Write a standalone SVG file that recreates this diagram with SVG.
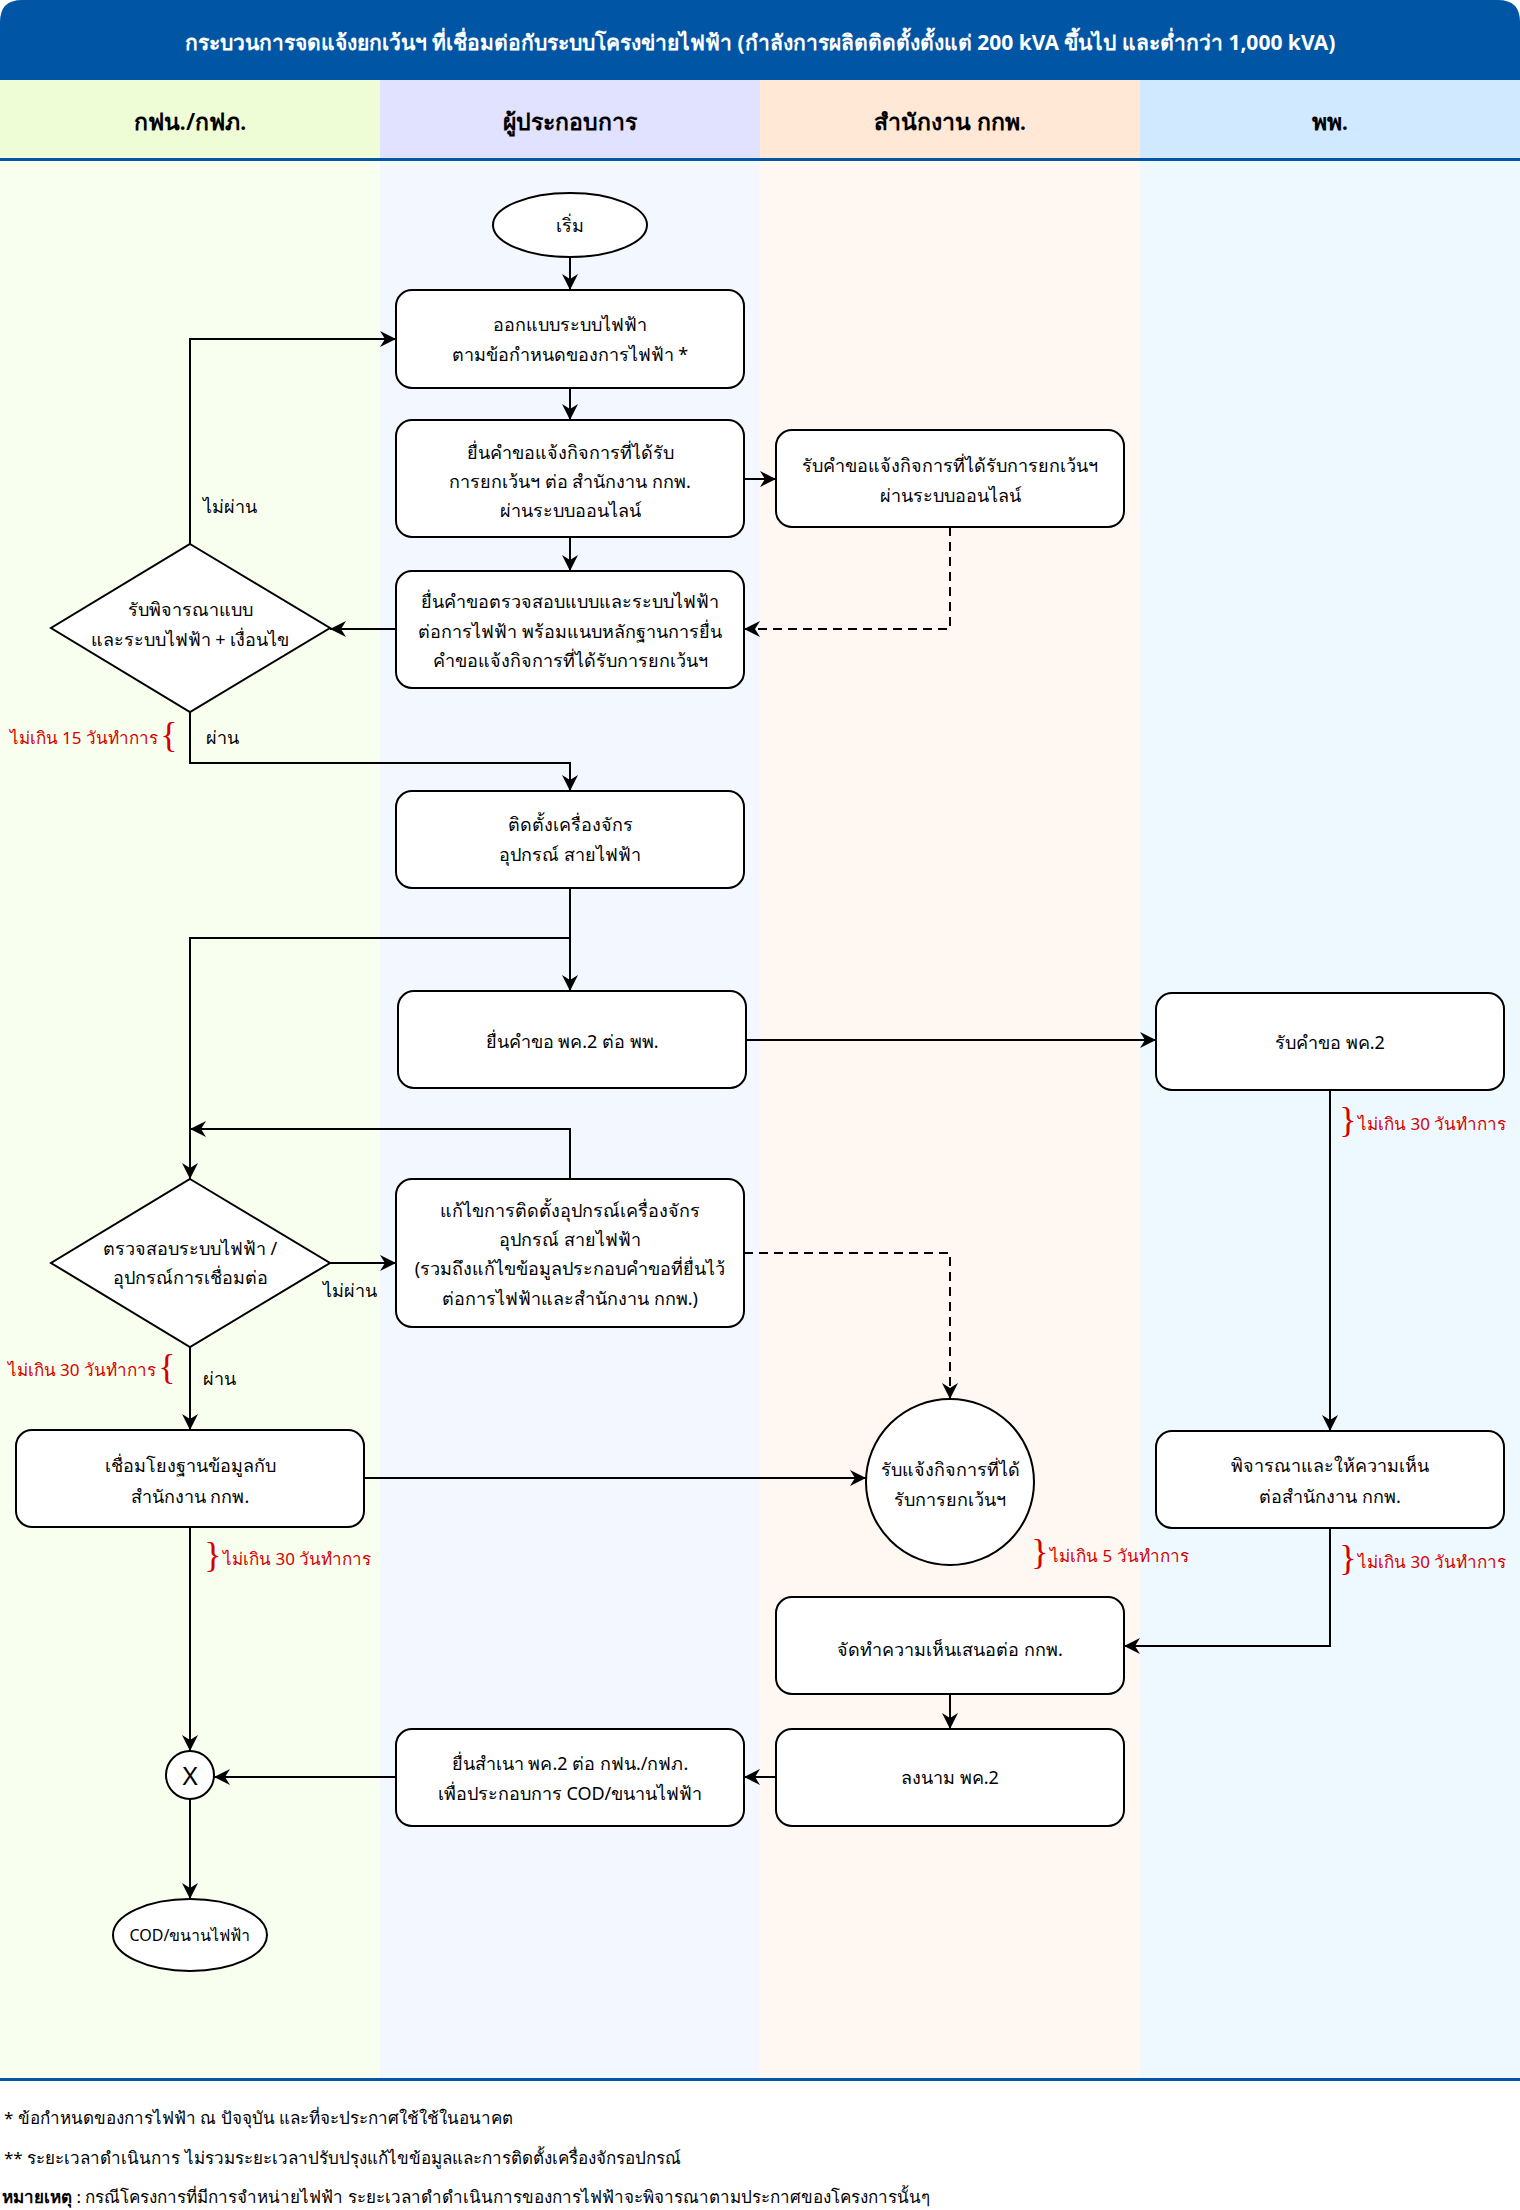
<svg xmlns="http://www.w3.org/2000/svg" width="1520" height="2210" viewBox="0 0 1520 2210">
<defs>
<marker id="arr" viewBox="0 0 16 16" refX="16" refY="8" markerWidth="16" markerHeight="16" markerUnits="userSpaceOnUse" orient="auto">
<path d="M0,0 L16,8 L0,16 L5,8 Z" fill="#000"/>
</marker>
<style>
.t{font-family:"Noto Sans","Liberation Sans",sans-serif;font-size:18px;fill:#000;text-anchor:middle;dominant-baseline:central}
.hd{font-family:"Noto Sans","Liberation Sans",sans-serif;font-size:23px;font-weight:600;fill:#000;text-anchor:middle;dominant-baseline:central}
.ttl{font-family:"Noto Sans","Liberation Sans",sans-serif;font-size:21px;font-weight:700;fill:#fff;text-anchor:middle;dominant-baseline:central}
.red{font-family:"Noto Sans","Liberation Sans",sans-serif;font-size:17px;fill:#d40000;dominant-baseline:central}
.br{font-family:"Liberation Serif",serif;font-size:36px;fill:#d40000;text-anchor:middle;dominant-baseline:central}
.lbl{font-family:"Noto Sans","Liberation Sans",sans-serif;font-size:18px;fill:#000;text-anchor:middle;dominant-baseline:central}
.fn{font-family:"Noto Sans","Liberation Sans",sans-serif;font-size:17px;fill:#000;dominant-baseline:central}
.box{fill:#fff;stroke:#000;stroke-width:2}
.ln{fill:none;stroke:#000;stroke-width:2;marker-end:url(#arr)}
.dash{stroke-dasharray:9 6}
</style>
</defs>

<!-- background lanes -->
<rect x="0" y="0" width="1520" height="2210" fill="#fff"/>
<rect x="0" y="80" width="380" height="80" fill="#effdd6"/>
<rect x="380" y="80" width="380" height="80" fill="#e1e2ff"/>
<rect x="760" y="80" width="380" height="80" fill="#ffe8d6"/>
<rect x="1140" y="80" width="380" height="80" fill="#d1e9ff"/>
<rect x="0" y="160" width="380" height="1920" fill="#f9ffee"/>
<rect x="380" y="160" width="380" height="1920" fill="#f3f7ff"/>
<rect x="760" y="160" width="380" height="1920" fill="#fff7f2"/>
<rect x="1140" y="160" width="380" height="1920" fill="#eef8ff"/>
<path d="M0,22 Q0,0 22,0 H1498 Q1520,0 1520,22 V80 H0 Z" fill="#0055a5"/>
<rect x="0" y="158" width="1520" height="3" fill="#0055a5"/>
<rect x="0" y="2078" width="1520" height="3" fill="#0055a5"/>

<g id="title"><text class="ttl" x="760" y="42">กระบวนการจดแจ้งยกเว้นฯ ที่เชื่อมต่อกับระบบโครงข่ายไฟฟ้า (กำลังการผลิตติดตั้งตั้งแต่ 200 kVA ขึ้นไป และต่ำกว่า 1,000 kVA)</text></g>
<g id="lane-headers">
<text class="hd" x="190" y="121">กฟน./กฟภ.</text>
<text class="hd" x="570" y="121">ผู้ประกอบการ</text>
<text class="hd" x="950" y="121">สำนักงาน กกพ.</text>
<text class="hd" x="1330" y="121">พพ.</text>
</g>

<g id="connectors">
<path class="ln" d="M570,257 V290"/>
<path class="ln" d="M570,388 V420"/>
<path class="ln" d="M744,479 H776"/>
<path class="ln" d="M570,537 V571"/>
<path class="ln dash" d="M950,527 V629 H744"/>
<path class="ln" d="M396,629 H330"/>
<path class="ln" d="M190,544 V339 H396"/>
<path class="ln" d="M190,712 V763 H570 V791"/>
<path class="ln" d="M570,888 V991"/>
<path class="ln" d="M570,938 H190 V1179"/>
<path class="ln" d="M746,1040 H1156"/>
<path class="ln" d="M570,1179 V1129 H190"/>
<path class="ln" d="M330,1263 H396"/>
<path class="ln dash" d="M744,1253 H950 V1399"/>
<path class="ln" d="M190,1347 V1430"/>
<path class="ln" d="M364,1478 H866"/>
<path class="ln" d="M1330,1090 V1431"/>
<path class="ln" d="M1330,1528 V1646 H1124"/>
<path class="ln" d="M950,1694 V1729"/>
<path class="ln" d="M776,1777 H744"/>
<path class="ln" d="M396,1777 H214"/>
<path class="ln" d="M190,1527 V1751"/>
<path class="ln" d="M190,1799 V1899"/>
</g>

<g id="edge-labels">
<text class="lbl" x="230" y="506">ไม่ผ่าน</text>
<text class="lbl" x="222" y="737">ผ่าน</text>
<text class="lbl" x="350" y="1290">ไม่ผ่าน</text>
<text class="lbl" x="219" y="1378">ผ่าน</text>
<text class="red" x="158" y="737" text-anchor="end">ไม่เกิน 15 วันทำการ</text>
<text class="br" x="169" y="735">{</text>
<text class="red" x="156" y="1369" text-anchor="end">ไม่เกิน 30 วันทำการ</text>
<text class="br" x="167" y="1367">{</text>
<text class="br" x="213" y="1555">}</text>
<text class="red" x="223" y="1558">ไม่เกิน 30 วันทำการ</text>
<text class="br" x="1040" y="1552">}</text>
<text class="red" x="1050" y="1555">ไม่เกิน 5 วันทำการ</text>
<text class="br" x="1348" y="1120">}</text>
<text class="red" x="1358" y="1123">ไม่เกิน 30 วันทำการ</text>
<text class="br" x="1348" y="1558">}</text>
<text class="red" x="1358" y="1561">ไม่เกิน 30 วันทำการ</text>
</g>

<g id="start"><ellipse class="box" cx="570" cy="225" rx="77" ry="32"/><text class="t" x="570" y="225">เริ่ม</text></g>
<g id="design"><rect class="box" x="396" y="290" width="348" height="98" rx="16"/><text class="t" x="570" y="324">ออกแบบระบบไฟฟ้า</text><text class="t" x="570" y="354">ตามข้อกำหนดของการไฟฟ้า *</text></g>
<g id="submit-online"><rect class="box" x="396" y="420" width="348" height="117" rx="16"/><text class="t" x="570" y="452">ยื่นคำขอแจ้งกิจการที่ได้รับ</text><text class="t" x="570" y="481">การยกเว้นฯ ต่อ สำนักงาน กกพ.</text><text class="t" x="570" y="510">ผ่านระบบออนไลน์</text></g>
<g id="receive-online"><rect class="box" x="776" y="430" width="348" height="97" rx="16"/><text class="t" x="950" y="465">รับคำขอแจ้งกิจการที่ได้รับการยกเว้นฯ</text><text class="t" x="950" y="495">ผ่านระบบออนไลน์</text></g>
<g id="submit-check"><rect class="box" x="396" y="571" width="348" height="117" rx="16"/><text class="t" x="570" y="601">ยื่นคำขอตรวจสอบแบบและระบบไฟฟ้า</text><text class="t" x="570" y="631">ต่อการไฟฟ้า พร้อมแนบหลักฐานการยื่น</text><text class="t" x="570" y="660">คำขอแจ้งกิจการที่ได้รับการยกเว้นฯ</text></g>
<g id="review-design"><polygon class="box" points="190,544 330,628 190,712 51,628"/><text class="t" x="190" y="609">รับพิจารณาแบบ</text><text class="t" x="190" y="639">และระบบไฟฟ้า + เงื่อนไข</text></g>
<g id="install"><rect class="box" x="396" y="791" width="348" height="97" rx="16"/><text class="t" x="570" y="824">ติดตั้งเครื่องจักร</text><text class="t" x="570" y="854">อุปกรณ์ สายไฟฟ้า</text></g>
<g id="submit-pk2"><rect class="box" x="398" y="991" width="348" height="97" rx="16"/><text class="t" x="572" y="1041">ยื่นคำขอ พค.2 ต่อ พพ.</text></g>
<g id="receive-pk2"><rect class="box" x="1156" y="993" width="348" height="97" rx="16"/><text class="t" x="1330" y="1042">รับคำขอ พค.2</text></g>
<g id="check-connection"><polygon class="box" points="190,1179 330,1263 190,1347 51,1263"/><text class="t" x="190" y="1248">ตรวจสอบระบบไฟฟ้า /</text><text class="t" x="190" y="1277">อุปกรณ์การเชื่อมต่อ</text></g>
<g id="fix-install"><rect class="box" x="396" y="1179" width="348" height="148" rx="16"/><text class="t" x="570" y="1210">แก้ไขการติดตั้งอุปกรณ์เครื่องจักร</text><text class="t" x="570" y="1239">อุปกรณ์ สายไฟฟ้า</text><text class="t" x="570" y="1268">(รวมถึงแก้ไขข้อมูลประกอบคำขอที่ยื่นไว้</text><text class="t" x="570" y="1298">ต่อการไฟฟ้าและสำนักงาน กกพ.)</text></g>
<g id="link-db"><rect class="box" x="16" y="1430" width="348" height="97" rx="16"/><text class="t" x="190" y="1465">เชื่อมโยงฐานข้อมูลกับ</text><text class="t" x="190" y="1496">สำนักงาน กกพ.</text></g>
<g id="receive-notice"><ellipse class="box" cx="950" cy="1482" rx="84" ry="83"/><text class="t" x="950" y="1469">รับแจ้งกิจการที่ได้</text><text class="t" x="950" y="1499">รับการยกเว้นฯ</text></g>
<g id="opinion"><rect class="box" x="1156" y="1431" width="348" height="97" rx="16"/><text class="t" x="1330" y="1465">พิจารณาและให้ความเห็น</text><text class="t" x="1330" y="1496">ต่อสำนักงาน กกพ.</text></g>
<g id="prepare-opinion"><rect class="box" x="776" y="1597" width="348" height="97" rx="16"/><text class="t" x="950" y="1649">จัดทำความเห็นเสนอต่อ กกพ.</text></g>
<g id="sign-pk2"><rect class="box" x="776" y="1729" width="348" height="97" rx="16"/><text class="t" x="950" y="1777">ลงนาม พค.2</text></g>
<g id="submit-copy"><rect class="box" x="396" y="1729" width="348" height="97" rx="16"/><text class="t" x="570" y="1763">ยื่นสำเนา พค.2 ต่อ กฟน./กฟภ.</text><text class="t" x="570" y="1793">เพื่อประกอบการ COD/ขนานไฟฟ้า</text></g>
<g id="join"><circle class="box" cx="190" cy="1775" r="24"/><text class="t" x="190" y="1775" style="font-size:26px">X</text></g>
<g id="cod"><ellipse class="box" cx="190" cy="1935" rx="77" ry="36"/><text class="t" x="190" y="1935" style="font-size:16px">COD/ขนานไฟฟ้า</text></g>

<g id="footnotes">
<text class="fn" x="4" y="2117">* ข้อกำหนดของการไฟฟ้า ณ ปัจจุบัน และที่จะประกาศใช้ใช้ในอนาคต</text>
<text class="fn" x="4" y="2157">** ระยะเวลาดำเนินการ ไม่รวมระยะเวลาปรับปรุงแก้ไขข้อมูลและการติดตั้งเครื่องจักรอปกรณ์</text>
<text class="fn" x="2" y="2196"><tspan font-weight="700">หมายเหตุ</tspan> : กรณีโครงการที่มีการจำหน่ายไฟฟ้า ระยะเวลาดำดำเนินการของการไฟฟ้าจะพิจารณาตามประกาศของโครงการนั้นๆ</text>
</g>
</svg>
